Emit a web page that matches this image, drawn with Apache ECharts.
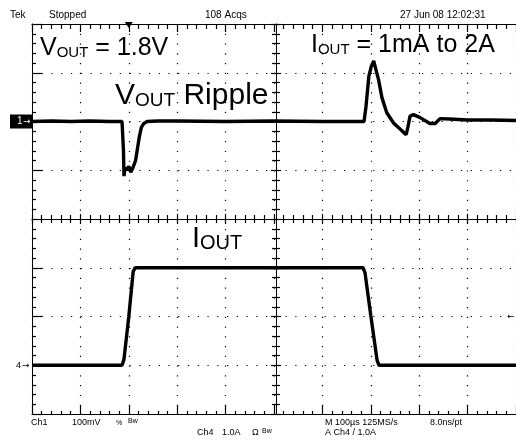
<!DOCTYPE html>
<html><head><meta charset="utf-8">
<script src="https://cdn.jsdelivr.net/npm/echarts/dist/echarts.min.js"></script>
<style>html,body{margin:0;padding:0;background:#fff;overflow:hidden}#c{width:516px;height:445px}</style>
</head><body><div id="c"></div>
<script>
// ---- data (time in microseconds, 100 us/div) ----
const vTime   = [0, 40, 80, 120, 160, 186, 189, 190, 192, 196, 200, 204, 208, 211, 214, 218, 222, 226, 231, 238, 260, 300, 400, 500, 600, 686, 690, 696, 701, 706, 710, 716, 723, 733, 747, 761, 773, 777, 781, 788, 802, 822, 833, 843, 863, 900, 950, 1000];
const vRipple = [0, 1, 0, 1, 0, 0, -60, -112, -95, -100, -92, -104, -96, -94, -80, -55, -30, -12, -4, 0, 1, 1, 0, 1, 0, 0, 30, 93, 113, 124, 122, 86, 49, 18, -3, -16, -27, -10, 11, 14, 8, -4, -4, 6, 5, 3, 3, 2]; // mV, Ch1 100mV/div
const iTime = [0, 100, 186, 190, 200, 209, 213, 300, 500, 684, 688, 700, 713, 717, 800, 1000];
const iOut  = [0, 0, 0, 0.12, 1.0, 1.92, 2.0, 2.0, 2.0, 2.0, 1.9, 1.02, 0.1, 0, 0, 0]; // A, Ch4 1A/div
const timeRange = [0, 1000];
const ch1Range = [-600, 200];   // mV
const ch4Range = [-1, 7];       // A
const triggerTimeUs = 200;
const triggerLevelA = 1.0;
const headerTexts = ['Tek', 'Stopped', '108 Acqs', '27 Jun 08 12:02:31'];
const footerRow1 = ['Ch1', '100mV', '%', 'Bw', 'M 100µs 125MS/s', '8.0ns/pt'];
const footerRow2 = ['Ch4', '1.0A', 'Ω', 'Bw', 'A Ch4 / 1.0A'];

const FONT = '"Liberation Sans", Arial, Helvetica, sans-serif';
const LINE = '#000';
const DOT = '#000';

const tk = (inside, len) => ({show: true, inside: inside, length: len, lineStyle: {color: LINE, width: 1.2}});
const mtk = (len) => ({show: true, splitNumber: 5, length: len, lineStyle: {color: LINE, width: 1.2}});
function ax(base, extra) {
  return Object.assign({type: 'value', axisLabel: {show: false},
    axisLine: {show: true, onZero: false, lineStyle: {color: LINE, width: 1}}, splitLine: {show: false}}, base, extra);
}
const X = {min: timeRange[0], max: timeRange[1], interval: 100};
const Y = {min: ch1Range[0], max: ch1Range[1], interval: 100};

const option = {
  animation: false,
  backgroundColor: '#fff',
  grid: {left: 32, top: 24, right: -4, bottom: 31},
  xAxis: [
    ax(X, {position: 'bottom', axisTick: tk(true, 9), minorTick: mtk(3),
         splitLine: {show: true, lineStyle: {color: DOT, width: 1.2, type: [1.2, 8.56]}}}),
    ax(X, {position: 'top', axisTick: tk(true, 8), minorTick: mtk(5)}),
    ax(X, {position: 'bottom', offset: -195, axisTick: tk(true, 5), minorTick: mtk(4)}),
    ax(X, {position: 'bottom', offset: -195, axisLine: {show: false, onZero: false}, axisTick: tk(false, 5), minorTick: mtk(4)})
  ],
  yAxis: [
    ax(Y, {position: 'left', axisTick: tk(true, 10), minorTick: mtk(4),
         splitLine: {show: true, lineStyle: {color: DOT, width: 1.2, type: [1.2, 8.55]}}}),
    {type: 'value', position: 'right', min: ch4Range[0], max: ch4Range[1], interval: 1, show: false},
    ax(Y, {position: 'left', offset: -244, axisTick: tk(true, 5), minorTick: mtk(4)}),
    ax(Y, {position: 'left', offset: -244, axisLine: {show: false, onZero: false}, axisTick: tk(false, 5), minorTick: mtk(4)})
  ],
  series: [
    {type: 'line', name: 'Ch1', xAxisIndex: 0, yAxisIndex: 0, showSymbol: false, z: 5,
     lineStyle: {color: '#000', width: 3.4}, data: vTime.map((t, i) => [t, vRipple[i]])},
    {type: 'line', name: 'Ch4', xAxisIndex: 0, yAxisIndex: 1, showSymbol: false, z: 5,
     lineStyle: {color: '#000', width: 3.4}, data: iTime.map((t, i) => [t, iOut[i]])}
  ]
};

const chart = echarts.init(document.getElementById('c'), null, {renderer: 'canvas'});
chart.setOption(option);

const ch1Zero = chart.convertToPixel({yAxisIndex: 0}, 0);
const ch4Zero = chart.convertToPixel({yAxisIndex: 1}, 0);
const trigY = chart.convertToPixel({yAxisIndex: 1}, triggerLevelA);
const trigX = chart.convertToPixel({xAxisIndex: 0}, triggerTimeUs);

function txt(s, x, y, size, extra) {
  return {type: 'text', x: x, y: y, z: 20, silent: true,
    style: Object.assign({text: s, fill: '#000', font: size + 'px ' + FONT, align: 'left', verticalAlign: 'middle'}, extra || {})};
}
function richLabel(big, sub, rest, x, y, F, f) {
  return {type: 'text', x: x, y: y, z: 20, silent: true,
    style: {text: '{b|' + big + '}{s|' + sub + '}{b|' + rest + '}', align: 'left', verticalAlign: 'top', fill: '#000',
      rich: {
        b: {fontSize: F, fontFamily: FONT, lineHeight: F, verticalAlign: 'bottom', fill: '#000'},
        s: {fontSize: f, fontFamily: FONT, lineHeight: Math.round(f * 0.8), verticalAlign: 'bottom', fill: '#000'}
      }}};
}

const g = [];
// header
const hx = [10, 49, 205, 400];
headerTexts.forEach((s, i) => g.push(txt(s, hx[i], 15, 10)));
// footer
const f1x = [31, 72, 116, 128, 325, 430];
footerRow1.forEach((s, i) => g.push(txt(s, f1x[i], i === 3 ? 421 : 423, i === 2 || i === 3 ? 7 : 9)));
const f2x = [197, 222, 252, 262, 325];
footerRow2.forEach((s, i) => g.push(txt(s, f2x[i], i === 3 ? 431 : 433, i === 3 ? 7 : 9)));
// channel markers
g.push({type: 'rect', z: 20, silent: true, shape: {x: 10, y: ch1Zero - 7, width: 22, height: 14}, style: {fill: '#000'}});
g.push(txt('1', 17, ch1Zero, 10, {fill: '#fff'}));
g.push(txt('→', 23, ch1Zero, 9, {fill: '#fff', font: '9px "DejaVu Sans", sans-serif'}));
g.push(txt('4', 16, ch4Zero, 9));
g.push(txt('→', 22, ch4Zero, 9, {font: '9px "DejaVu Sans", sans-serif'}));
g.push(txt('←', 507, trigY, 9, {font: '9px "DejaVu Sans", sans-serif'}));
// trigger position marker
g.push({type: 'polygon', z: 20, silent: true, shape: {points: [[trigX - 4, 22], [trigX + 4, 22], [trigX, 28]]}, style: {fill: '#000'}});
// annotations
g.push(richLabel('V', 'OUT', ' = 1.8V', 40, 35.5, 25, 15));
g.push(richLabel('V', 'OUT', ' Ripple', 115, 80.5, 30, 19));
g.push(richLabel('I', 'OUT', ' = 1mA to 2A', 311, 32.5, 25, 15));
g.push(richLabel('I', 'OUT', '', 192, 224.5, 29, 20));

chart.setOption({graphic: {elements: g}});
</script>
</body></html>
